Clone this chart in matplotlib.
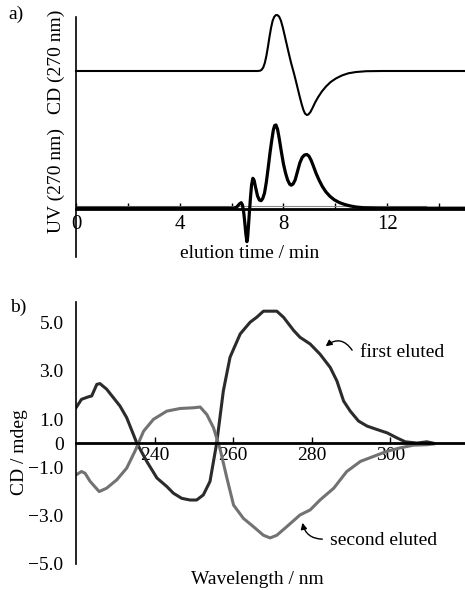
import matplotlib.pyplot as plt

plt.rcParams['font.family'] = ['Liberation Serif', 'DejaVu Serif']

# panel a: chromatograms (arbitrary signal units)
cd_time = [0, 7.00, 7.10, 7.16, 7.22, 7.28, 7.34, 7.40, 7.46, 7.52, 7.58, 7.64, 7.70, 7.76,
           7.83, 7.90, 7.98, 8.06, 8.14, 8.22, 8.30, 8.38, 8.46, 8.54, 8.62, 8.70, 8.77,
           8.83, 8.90, 8.96, 9.04, 9.12, 9.22, 9.34, 9.48, 9.64, 9.82, 10.02, 10.25,
           10.50, 10.80, 11.20, 11.80, 15.0]
cd_signal = [138, 138, 138.3, 139.3, 141.5, 146, 153, 162, 172, 181, 188, 192, 193.8, 194,
             192.5, 188.5, 181, 172, 163, 154, 145.5, 138, 130, 121.5, 113, 105, 99,
             95.5, 94, 94.5, 97, 101, 106.5, 112, 117.5, 122.5, 127, 130.5, 133.5,
             135.7, 137, 137.8, 138, 138]

uv_time = [0, 5.50, 6.10, 6.20, 6.30, 6.37, 6.42, 6.47, 6.51, 6.55, 6.59, 6.62, 6.65, 6.69,
           6.73, 6.77, 6.82, 6.87, 6.93, 7.00, 7.07, 7.14, 7.20, 7.27, 7.34, 7.41, 7.48,
           7.55, 7.61, 7.66, 7.71, 7.77, 7.84, 7.92, 8.00, 8.08, 8.16, 8.24, 8.30, 8.37,
           8.45, 8.54, 8.63, 8.72, 8.81, 8.90, 8.98, 9.07, 9.16, 9.26, 9.38, 9.50, 9.64,
           9.80, 9.96, 10.15, 10.35, 10.55, 10.79, 11.10, 11.69, 15.0]
uv_signal = [0.8, 0.8, 0.8, 2, 5, 6.3, 4, -4, -14, -25, -32.7, -28, -17, -2,
             12, 24, 30.7, 28.5, 21, 13, 9, 8.3, 10.5, 16, 27, 41, 56,
             69, 79, 83.5, 84, 80, 70, 57, 45, 36, 29, 24.8, 23.8, 25,
             29, 37.5, 46, 51.5, 54, 54.5, 53, 48.5, 42.5, 35.5, 28.5, 22.5, 17,
             12.5, 9.2, 6.5, 4.6, 3.2, 2, 1.2, 0.8, 0.8]

# panel b: CD spectra
wl_first = [220, 221.4, 223.1, 224, 225.3, 226.1, 227.8, 229.5, 231.2, 232.9, 235.5, 238,
            240.6, 243.1, 244.8, 246.9, 249, 250.7, 252.4, 254.1, 255.8, 257.5, 259.2,
            260.1, 261.8, 264.3, 266, 267.7, 271.1, 272.8, 275.4, 277, 279.6, 282.1,
            284.7, 286.4, 288.1, 289.8, 291.9, 294.1, 296.6, 299.2, 301.7, 303.8,
            306.8, 309.3, 311]
cd_first = [1.47, 1.82, 1.92, 1.96, 2.44, 2.47, 2.24, 1.89, 1.54, 1.06, 0, -0.75,
            -1.44, -1.79, -2.07, -2.28, -2.35, -2.35, -2.14, -1.58, 0, 2.17, 3.56,
            3.9, 4.53, 5.01, 5.22, 5.47, 5.47, 5.22, 4.67, 4.39, 4.11, 3.69,
            3.14, 2.58, 1.75, 1.33, 0.92, 0.71, 0.57, 0.43, 0.22, 0.06,
            0.01, 0.06, 0]

wl_second = [220, 221.4, 222.3, 223.6, 225.9, 227.8, 230.4, 232.9, 235, 237.2, 239.7,
             243.1, 246.5, 249.9, 251.6, 253.3, 255, 256.7, 258.4, 260.1, 262.6, 265.2,
             267.7, 269.4, 271.1, 273.6, 277, 279.6, 282.1, 285.6, 288.9, 292.4, 295.8,
             299.2, 302.5, 305.9, 309.3, 311]
cd_second = [-1.31, -1.17, -1.24, -1.58, -2.0, -1.86, -1.51, -1.03, -0.33, 0.5, 0.99,
             1.33, 1.44, 1.47, 1.5, 1.19, 0.64, -0.26, -1.44, -2.56, -3.11, -3.46,
             -3.81, -3.92, -3.81, -3.46, -2.97, -2.76, -2.35, -1.86, -1.17, -0.75, -0.54,
             -0.33, -0.19, -0.08, -0.06, -0.03]

W, H = 465, 590
fig = plt.figure(figsize=(W / 100, H / 100), dpi=100)
ax1 = fig.add_axes([76 / W, 1 - 257 / H, 389 / W, 240 / H])
ax2 = fig.add_axes([76 / W, 1 - 564 / H, 389 / W, 262 / H])

# ---- a) ----
ax1.axhline(3.5, color='#8a8a8a', lw=0.8, xmax=0.9)
ax1.plot(uv_time, uv_signal, color='black', lw=2.3, solid_joinstyle='round')
ax1.plot(cd_time, cd_signal, color='black', lw=1.5, clip_on=False, solid_joinstyle='round')
ax1.set_xlim(0, 15)
ax1.set_ylim(-48, 192)
for s in ['top', 'right']:
    ax1.spines[s].set_visible(False)
ax1.spines['bottom'].set_position(('data', 0))
ax1.spines['bottom'].set_linewidth(2)
ax1.spines['left'].set_linewidth(1.2)
ax1.set_yticks([])
ax1.set_xticks([0, 4, 8, 12], ['0', '4', '8', '12'])
ax1.set_xticks([2, 6, 10, 14], minor=True)
ax1.tick_params(axis='x', which='both', direction='in', length=4, width=1,
                labelsize=15, pad=4)
ax1.get_xticklabels()[0].set_bbox(dict(facecolor='white', edgecolor='none', pad=1))

fig.text(8 / W, 1 - 14 / H, 'a)', ha='left', va='center', fontsize=14)
fig.text(56 / W, 1 - 62 / H, 'CD (270 nm)', rotation=90, ha='center', va='center', fontsize=14)
fig.text(56 / W, 1 - 181 / H, 'UV (270 nm)', rotation=90, ha='center', va='center', fontsize=14)
fig.text(250 / W, 1 - 253 / H, 'elution time / min', ha='center', va='center', fontsize=14)

# ---- b) ----
ax2.plot(wl_first, cd_first, color='#2b2b2b', lw=2.2, solid_joinstyle='round')
ax2.plot(wl_second, cd_second, color='#727272', lw=2.2, solid_joinstyle='round')
ax2.set_xlim(220, 319)
ax2.set_ylim(-5, 5.85)
for s in ['top', 'right']:
    ax2.spines[s].set_visible(False)
ax2.spines['bottom'].set_position(('data', 0))
ax2.spines['bottom'].set_linewidth(2)
ax2.spines['bottom'].set_zorder(3)
ax2.spines['left'].set_linewidth(1.2)
ax2.set_yticks([5, 3, 1, 0, -1, -3, -5], ['5.0', '3.0', '1.0', '0', '\u22121.0', '\u22123.0', '\u22125.0'])
ax2.tick_params(axis='y', length=0, pad=9, labelsize=14)
ax2.set_xticks([240, 260, 280, 300])
ax2.tick_params(axis='x', direction='in', length=4, width=1, pad=3, labelsize=14)

ax2.annotate('', xy=(283.0, 3.94), xytext=(290.66, 3.76),
             arrowprops=dict(arrowstyle='-|>', color='black', lw=1,
                             connectionstyle='arc3,rad=0.6', mutation_scale=9))
ax2.text(292.4, 3.76, 'first eluted', va='center', fontsize=14)
ax2.annotate('', xy=(277.5, -3.18), xytext=(283.4, -3.97),
             arrowprops=dict(arrowstyle='-|>', color='black', lw=1,
                             connectionstyle='arc3,rad=-0.45', mutation_scale=9))
ax2.text(284.7, -4.01, 'second eluted', va='center', fontsize=14)

fig.text(10 / W, 1 - 307 / H, 'b)', ha='left', va='center', fontsize=14)
fig.text(19 / W, 1 - 452 / H, 'CD / mdeg', rotation=90, ha='center', va='center', fontsize=14)
fig.text(257 / W, 1 - 580 / H, 'Wavelength / nm', ha='center', va='center', fontsize=14)

fig.savefig('out.png', dpi=100)
